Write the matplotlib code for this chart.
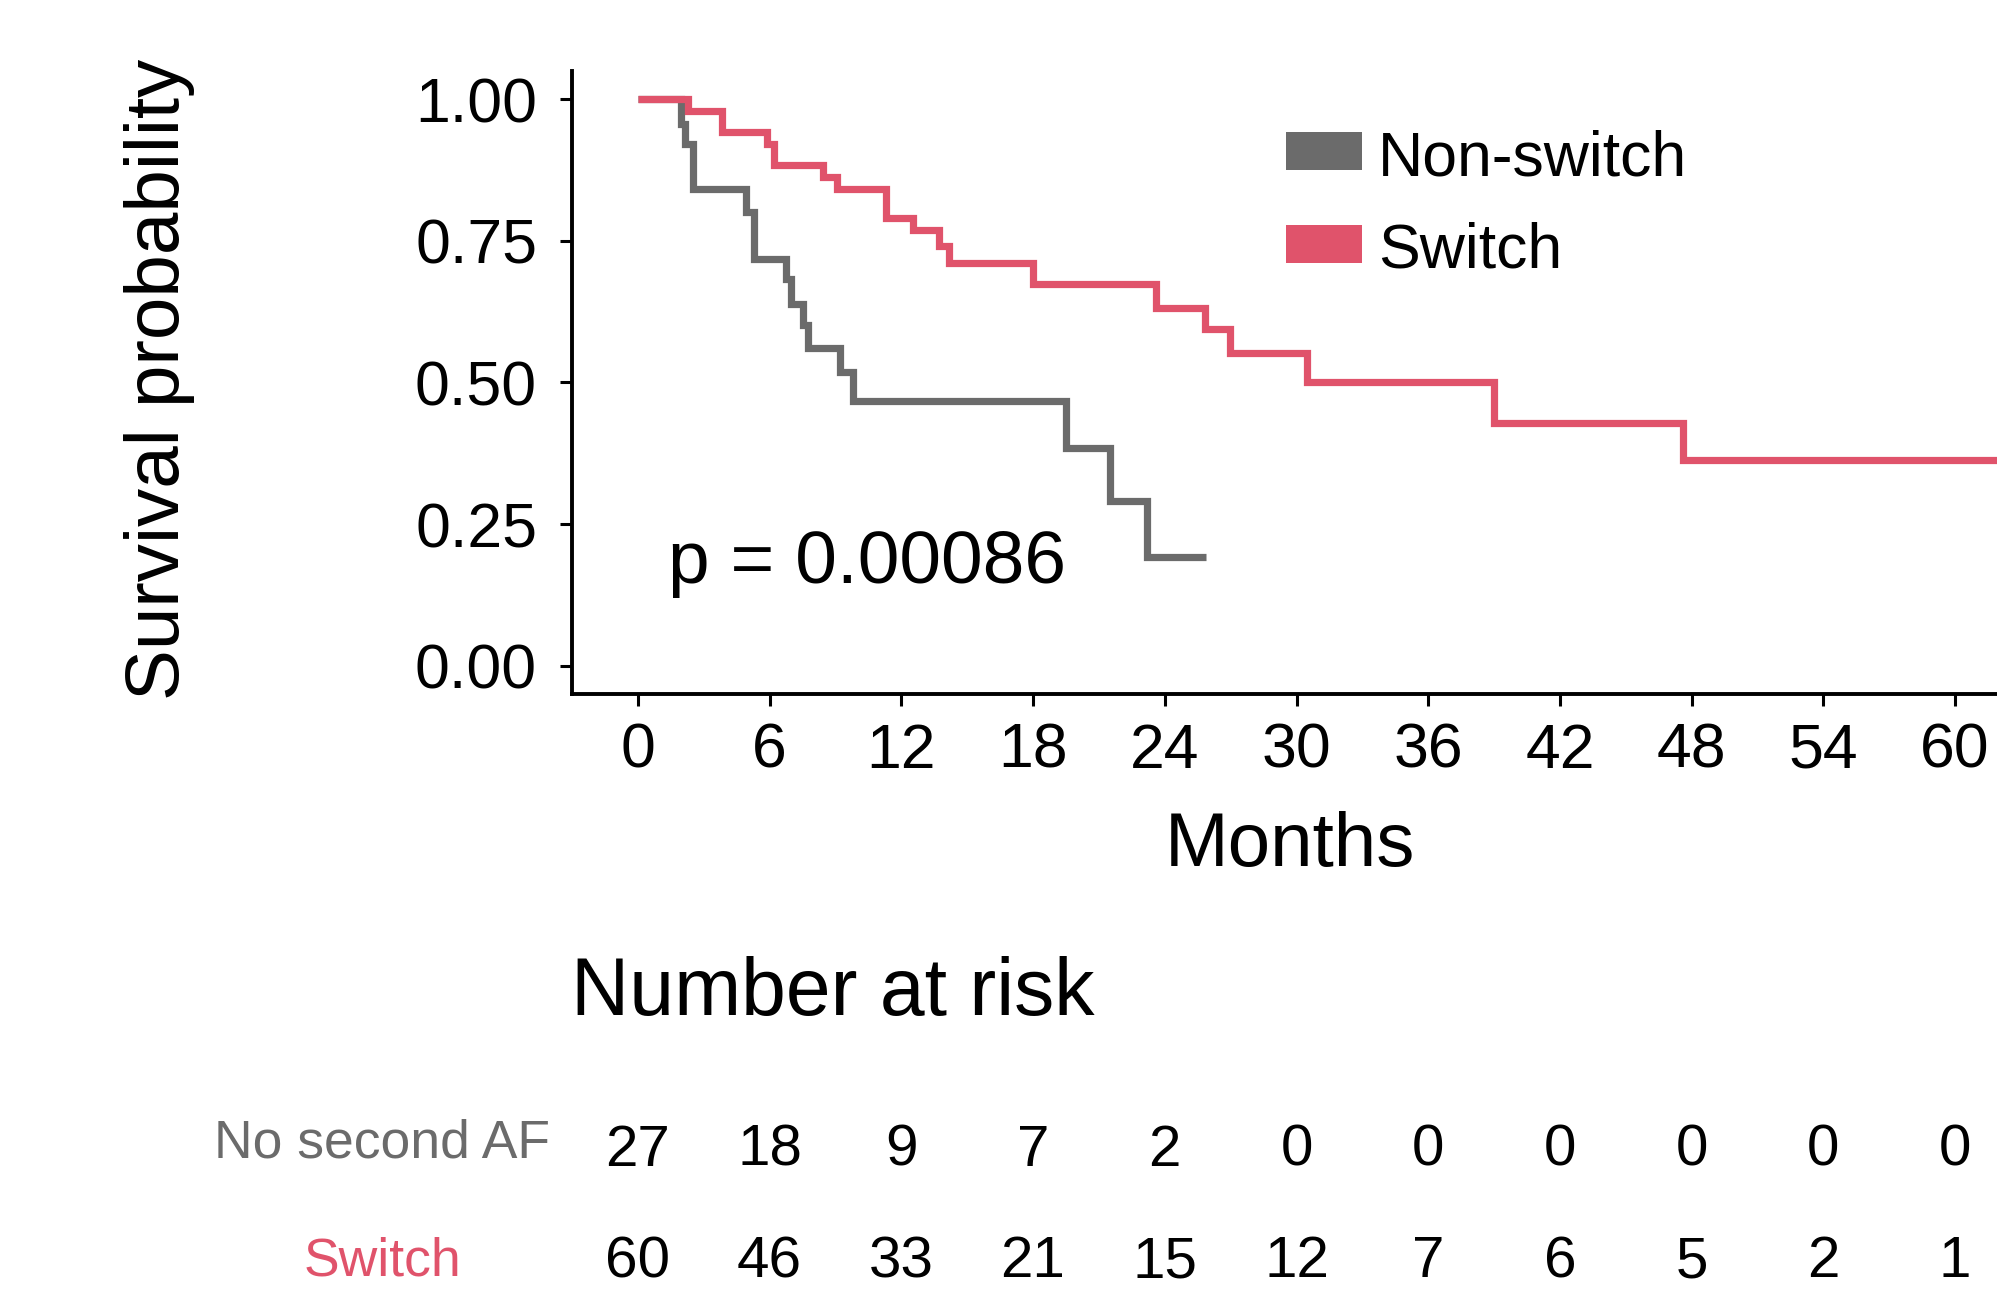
import matplotlib
matplotlib.use("Agg")
import matplotlib.pyplot as plt
from matplotlib.patches import Rectangle
import matplotlib.transforms as mtransforms

plt.rcParams['font.family'] = ['Liberation Sans', 'DejaVu Sans']

# ---- data ----
nonswitch_time = [0, 1.96, 2.14, 2.49, 4.92, 5.30, 6.77, 6.96, 7.53, 7.73, 9.20, 9.78, 19.48, 21.5, 23.2, 25.9]
nonswitch_surv = [1.0, 0.956, 0.921, 0.842, 0.801, 0.718, 0.683, 0.639, 0.601, 0.560, 0.519, 0.467, 0.385, 0.291, 0.191, 0.191]

switch_time = [0, 2.29, 3.81, 5.86, 6.20, 8.44, 9.05, 11.28, 12.54, 13.73, 14.15, 17.98, 23.6, 25.83, 26.97, 30.48, 39.0, 47.6, 62.5]
switch_surv = [1.0, 0.979, 0.942, 0.921, 0.883, 0.862, 0.842, 0.790, 0.768, 0.740, 0.711, 0.674, 0.631, 0.595, 0.552, 0.501, 0.429, 0.363, 0.363]

x_ticks = [0, 6, 12, 18, 24, 30, 36, 42, 48, 54, 60]
y_ticks = [0.00, 0.25, 0.50, 0.75, 1.00]
y_ticklabels = ["0.00", "0.25", "0.50", "0.75", "1.00"]

risk_nonswitch = [27, 18, 9, 7, 2, 0, 0, 0, 0, 0, 0]
risk_switch = [60, 46, 33, 21, 15, 12, 7, 6, 5, 2, 1]

legend_labels = ["Non-switch", "Switch"]
risk_labels = ["No second AF", "Switch"]
p_text = "p = 0.00086"

GRAY = "#6B6B6B"
RED = "#E0536B"

W, H = 1997, 1291
fig = plt.figure(figsize=(W / 100, H / 100), dpi=100)

left_px, right_px, top_px, bot_px = 572, 2021, 70.7, 694
ax = fig.add_axes([left_px / W, 1 - bot_px / H, (right_px - left_px) / W, (bot_px - top_px) / H])

ax.step(nonswitch_time, nonswitch_surv, where='post', color=GRAY, lw=5.2, solid_capstyle='butt', solid_joinstyle='miter')
ax.step(switch_time, switch_surv, where='post', color=RED, lw=5.2, solid_capstyle='butt', solid_joinstyle='miter')

ax.set_xlim(-3, 63)
ax.set_ylim(-0.05, 1.05)
ax.set_xticks(x_ticks)
ax.set_xticklabels([str(t) for t in x_ticks])
ax.set_yticks(y_ticks)
ax.set_yticklabels(y_ticklabels)
for s in ['top', 'right']:
    ax.spines[s].set_visible(False)
for s in ['left', 'bottom']:
    ax.spines[s].set_linewidth(2.8)
ax.tick_params(axis='both', length=8.6, width=2.2, labelsize=45, colors='black')
ax.tick_params(axis='y', pad=16.6)
ax.tick_params(axis='x', pad=11.5)

# axis titles
ax.set_xlabel("Months", fontsize=55)
ax.xaxis.label.set_va('baseline')
ax.xaxis.set_label_coords((1290 - left_px) / (right_px - left_px), (bot_px - 866) / (bot_px - top_px))
ax.set_ylabel("Survival probability", fontsize=55)
ax.yaxis.label.set_va('center')
ax.yaxis.set_label_coords((159 - left_px) / (right_px - left_px), (bot_px - 379) / (bot_px - top_px))

# legend (manual boxes)
for lab, col, y0, y1, base in [(legend_labels[0], GRAY, 132.3, 170, 175), (legend_labels[1], RED, 225, 262.7, 267.3)]:
    fig.add_artist(Rectangle((1286 / W, 1 - y1 / H), (1361.7 - 1286) / W, (y1 - y0) / H,
                             transform=fig.transFigure, facecolor=col, edgecolor='none'))
    fig.text(1378 / W, 1 - base / H, lab, fontsize=45, ha='left', va='baseline')

# p-value
fig.text(668 / W, 1 - 583.3 / H, p_text, fontsize=54, ha='left', va='baseline')

# Number at risk
fig.text(571 / W, 1 - 1015 / H, "Number at risk", fontsize=58, ha='left', va='baseline')

trans = mtransforms.blended_transform_factory(ax.transData, fig.transFigure)
for t, n in zip(x_ticks, risk_nonswitch):
    ax.text(t, 1 - 1165.5 / H, str(n), transform=trans, fontsize=42, ha='center', va='baseline', clip_on=False)
for t, n in zip(x_ticks, risk_switch):
    ax.text(t, 1 - 1277 / H, str(n), transform=trans, fontsize=42, ha='center', va='baseline', clip_on=False)

fig.text(382.5 / W, 1 - 1157.3 / H, risk_labels[0], fontsize=38.5, color=GRAY, ha='center', va='baseline')
fig.text(382.5 / W, 1 - 1276 / H, risk_labels[1], fontsize=38.5, color=RED, ha='center', va='baseline')

fig.savefig("out.png", dpi=100, facecolor='white')
